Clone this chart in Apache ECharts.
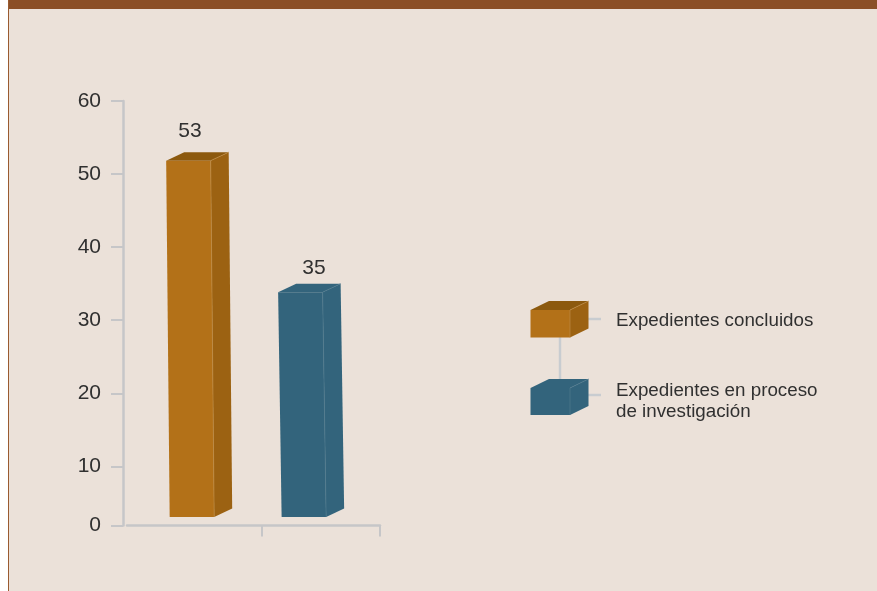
<!DOCTYPE html>
<html><head><meta charset="utf-8">
<style>html,body{margin:0;padding:0;background:#fff}#c{width:877px;height:591px}</style>
<script src="https://cdn.jsdelivr.net/npm/echarts@6/dist/echarts.min.js"></script>
</head><body><div id="c"></div>
<script>
const categories = ['Expedientes concluidos', 'Expedientes en proceso\nde investigación'];
const values = [53, 35];
const barColors = [
  {front:'#b37118', side:'#9c6212', top:'#8c590e', edge:'#bd8b45'},
  {front:'#33647c', side:'#33647c', top:'#33647c', edge:'#4f7a8e'}
];
const yTicks = [10, 20, 30, 40, 50, 60];
const yFloor = 1.9;            // the drawn axis is cut short: its "0" sits at this height on the 10-60 scale
const FONT = '"Liberation Sans", Arial, sans-serif';
const AXIS = '#c6c6c8';
const TEXT = '#303030';

function box(x0,y0,x1,y1,dx,dy,skew,col){
  return [
    {type:'polygon',shape:{points:[[x0-skew,y0],[x1-skew,y0],[x1-skew+dx,y0-dy],[x0-skew+dx,y0-dy]]},style:{fill:col.top}},
    {type:'polygon',shape:{points:[[x1-skew,y0],[x1-skew+dx,y0-dy],[x1+dx,y1-dy],[x1,y1]]},style:{fill:col.side}},
    {type:'polygon',shape:{points:[[x0-skew,y0],[x1-skew,y0],[x1,y1],[x0,y1]]},style:{fill:col.front}},
    {type:'polyline',shape:{points:[[x1-skew+dx,y0-dy],[x1-skew,y0],[x1,y1]]},style:{fill:'none',stroke:col.edge,lineWidth:0.7}}
  ];
}

const chart = echarts.init(document.getElementById('c'), null, {renderer:'canvas'});
chart.setOption({
  animation:false,
  backgroundColor:'transparent',
  grid:{left:127, right:877-380, top:101, bottom:591-525.5},
  xAxis:{
    type:'value', min:-0.58, max:1.68, position:'bottom',
    splitLine:{show:false},
    axisLine:{show:true,onZero:false,lineStyle:{color:AXIS,width:2.5}},
    axisTick:{show:true,length:11,lineStyle:{color:AXIS,width:2},customValues:[0.625,1.68]},
    axisLabel:{show:false}
  },
  yAxis:{
    type:'value', min:yFloor, max:60, offset:4,
    splitLine:{show:false},
    axisLine:{show:true,onZero:false,lineStyle:{color:AXIS,width:2.5}},
    axisTick:{show:true,length:12,lineStyle:{color:AXIS,width:2},customValues:[yFloor].concat(yTicks)},
    axisLabel:{
      color:TEXT,fontFamily:FONT,fontSize:21,margin:22,
      customValues:[yFloor].concat(yTicks),
      formatter:v=>v===yFloor?'0':String(Math.round(v))
    }
  },
  series:[{
    type:'custom',
    coordinateSystem:'cartesian2d',
    clip:false,
    data:values.map((v,i)=>[i,v]),
    encode:{x:0,y:1},
    renderItem:(params,api)=>{
      const i=api.value(0), p=api.coord([i,api.value(1)]), c=barColors[i];
      const w=44.5, dx=18, dy=8.5, skew=3.5, base=517;
      const x0=p[0]-w/2, x1=x0+w;
      const backTop=p[1], top=backTop+dy;
      const labelDx=i===0?-2:10, labelDy=i===0?-21:-15;
      return {type:'group',children:box(x0,top,x1,base,dx,dy,skew,c).concat([
        {type:'text',style:{text:String(api.value(1)),x:p[0]+labelDx,y:backTop+labelDy,
          fill:TEXT,font:'21px '+FONT,textAlign:'center',textVerticalAlign:'middle'}}
      ])};
    }
  }],
  graphic:[
    {type:'rect',z:-10,shape:{x:8,y:0,width:869,height:591},style:{fill:'#ebe1d9'}},
    {type:'rect',z:-9,shape:{x:8,y:0,width:869,height:9},style:{fill:'#8b4f27'}},
    {type:'rect',z:-9,shape:{x:8,y:0,width:1,height:591},style:{fill:'#9a5a30'}},
    {type:'line',shape:{x1:560,y1:337,x2:560,y2:380},style:{stroke:'#c8ccd0',lineWidth:2.5}},
    {type:'line',shape:{x1:588,y1:319,x2:601,y2:319},style:{stroke:'#c8ccd0',lineWidth:2.5}},
    {type:'line',shape:{x1:588,y1:395,x2:601,y2:395},style:{stroke:'#c8ccd0',lineWidth:2.5}},
    {type:'group',children:box(530.5,310,570,337.5,18.5,9,0,barColors[0])},
    {type:'group',children:box(530.5,388,570,415,18.5,9,0,barColors[1])},
    {type:'text',style:{text:categories[0],x:616,y:321,fill:TEXT,font:'18.8px '+FONT,textVerticalAlign:'middle',lineHeight:21}},
    {type:'text',style:{text:categories[1],x:616,y:401.5,fill:TEXT,font:'18.8px '+FONT,textVerticalAlign:'middle',lineHeight:21}}
  ]
});
</script></body></html>
